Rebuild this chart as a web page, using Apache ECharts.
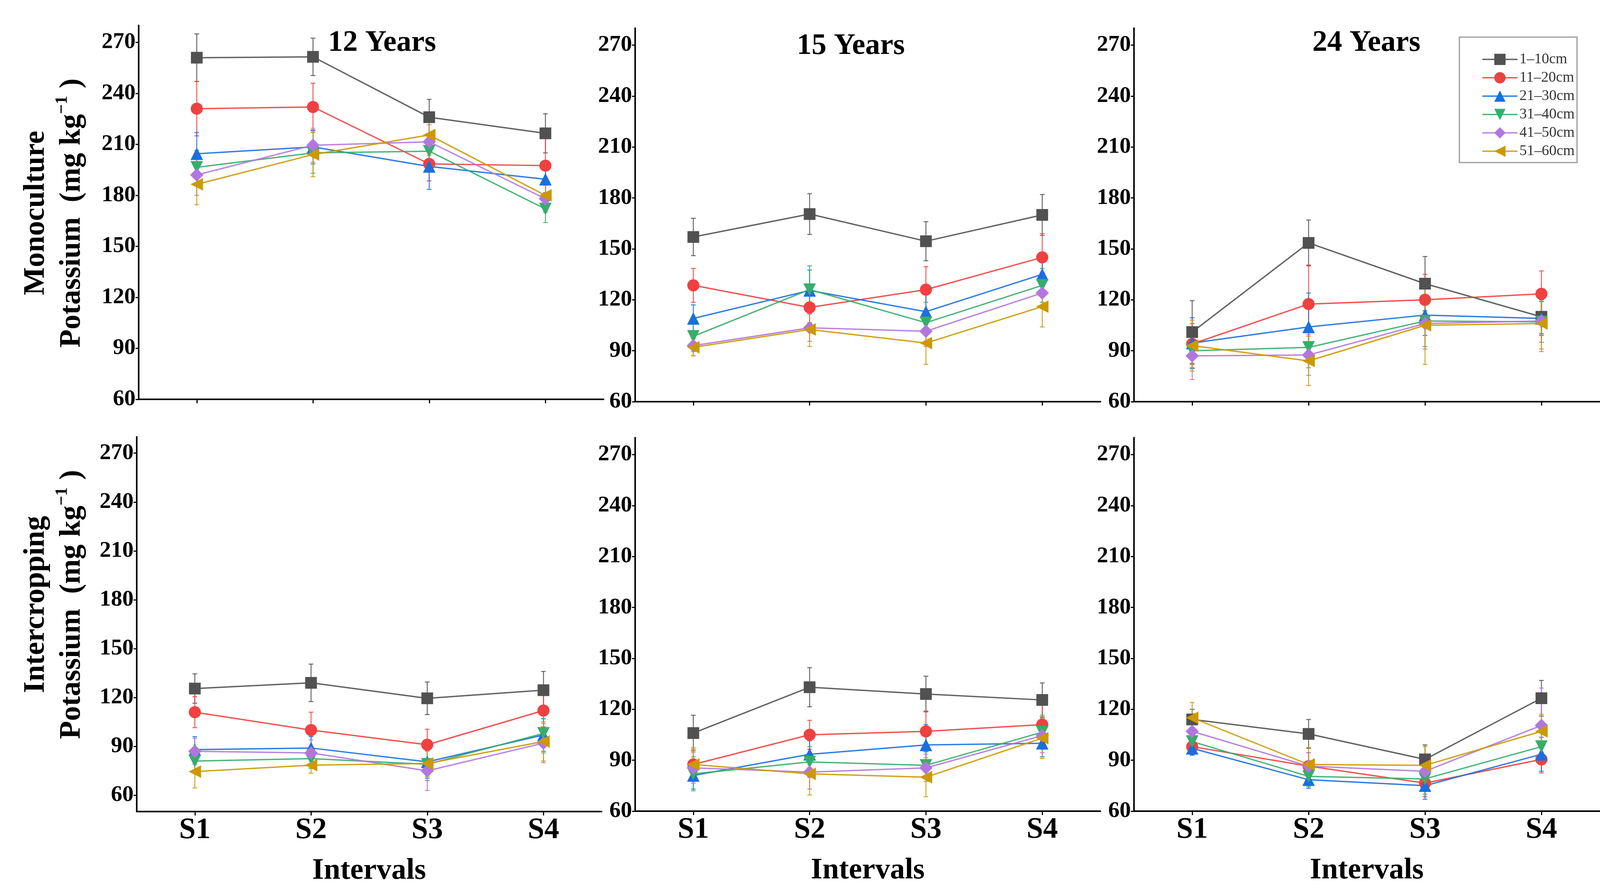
<!DOCTYPE html>
<html><head><meta charset="utf-8">
<script src="https://cdn.jsdelivr.net/npm/echarts@6/dist/echarts.min.js"></script>
<style>html,body{margin:0;padding:0;background:#fff}#c{width:4124px;height:2288px}</style>
</head><body><div id="c"></div>
<script>
const categories = ['S1', 'S2', 'S3', 'S4'];
const depths = ['1–10cm', '11–20cm', '21–30cm', '31–40cm', '41–50cm', '51–60cm'];
const yTickValues = [60, 90, 120, 150, 180, 210, 240, 270];
const panelTitles = ['12 Years', '15 Years', '24 Years'];

// Monoculture, 12 years (rows = depths, cols = S1..S4)
const mono12Mean = [[261, 261.5, 226, 216.5], [231, 232, 198.5, 197.5], [204.5, 208.5, 197, 189.5], [196.5, 205, 206, 172], [192, 209.5, 211.5, 178], [186.5, 204, 215.5, 180]];
const mono12Err = [[14, 11, 10.5, 11.5], [16, 14, 10, 16], [12.5, 10, 13.5, 8], [10, 12, 9, 8], [12, 10, 10, 8], [12, 13, 12, 9]];
// Monoculture, 15 years
const mono15Mean = [[157, 170.5, 154.5, 170], [128.5, 115.5, 126, 145], [109, 125.5, 113, 135], [98.5, 126, 106.5, 128.5], [93, 103.5, 101.5, 124], [92, 102.5, 94.5, 116]];
const mono15Err = [[11, 12, 11.5, 12], [10, 9, 13.5, 14], [8, 12, 10, 11], [9, 14, 12, 10], [6, 8, 9, 9], [5, 10, 12.5, 12]];
// Monoculture, 24 years
const mono24Mean = [[101, 153.5, 129.5, 110], [94, 117.5, 120, 123.5], [94.5, 104, 111, 109], [90, 92, 107.5, 107], [87, 87.5, 106, 107.5], [93, 84, 105, 106]];
const mono24Err = [[18.5, 13.5, 16, 10], [12, 23, 15, 13.5], [15, 20, 12, 10], [10, 12, 15, 12], [14, 12, 15, 18], [15, 14.5, 23, 15]];
// Intercropping, 12 years
const inter12Mean = [[125.5, 129, 119.5, 124.5], [111, 100, 91, 112], [88, 89, 80.5, 97], [81, 82.5, 79, 98], [87, 86, 75, 92], [74.5, 78.5, 79.5, 93]];
const inter12Err = [[9, 11.5, 10, 11.5], [9.5, 11, 9.5, 10], [8, 7, 10, 10], [7, 6, 10, 12], [8, 8, 12, 12], [10, 5, 8, 12]];
// Intercropping, 15 years
const inter15Mean = [[106, 133, 129, 125.5], [87.5, 105, 107, 111], [81, 93.5, 99, 100], [82, 89, 87, 106.5], [85.5, 83, 85.5, 104.5], [87.5, 82, 80, 103]];
const inter15Err = [[10.5, 11.5, 10.5, 10], [9, 8.5, 12, 12], [8, 8, 12, 8], [10, 9, 8, 10], [9, 10, 8, 10], [10, 12.5, 11.5, 12]];
// Intercropping, 24 years
const inter24Mean = [[114, 105.5, 90.5, 126.5], [98, 86.5, 76.5, 90.5], [97, 78.5, 75, 93.5], [101, 80.5, 79, 98], [107, 86.5, 83.5, 110.5], [115, 87.5, 87, 107]];
const inter24Err = [[6, 8.5, 8.5, 10.5], [5, 8, 8, 8], [4, 5, 8, 10], [5, 6, 9, 10], [6, 8, 10, 22], [9, 10, 11, 10]];

const panelMeans = [mono12Mean, mono15Mean, mono24Mean, inter12Mean, inter15Mean, inter24Mean];
const panelErrs = [mono12Err, mono15Err, mono24Err, inter12Err, inter15Err, inter24Err];
const panelYMin = [60, 60, 60, 50, 60, 60];

const colors = ['#515151', '#F14040', '#1A6FDF', '#37AD6B', '#B177DE', '#CC9900'];
const symbols = ['rect', 'circle', 'triangle', 'triangle', 'diamond', 'triangle'];
const symbolRotates = [0, 0, 0, 180, 0, 90];
const symbolSizes = [30, 31, 32, 32, 34, 32];

const FONT = 'Liberation Serif';
const gridsLayout = [
  {left: 355, top: 65, width: 1190, height: 957},
  {left: 1626, top: 72, width: 1191, height: 956},
  {left: 2903, top: 72, width: 1192, height: 956},
  {left: 350, top: 1118, width: 1190, height: 959},
  {left: 1626, top: 1120, width: 1191, height: 956},
  {left: 2903, top: 1120, width: 1192, height: 956}
];

const grid = [], xAxis = [], yAxis = [], series = [];
gridsLayout.forEach((g, i) => {
  grid.push(Object.assign({containLabel: false}, g));
  const bottomRow = i >= 3;
  xAxis.push({
    type: 'category', gridIndex: i, data: categories, boundaryGap: true,
    axisLine: {show: true, onZero: false, lineStyle: {color: '#000', width: 4}},
    axisTick: {show: true, alignWithLabel: true, length: 10, lineStyle: {color: '#000', width: 3}},
    axisLabel: {show: bottomRow, fontFamily: FONT, fontWeight: 'bold', fontSize: 76, color: '#000', margin: 10},
    name: bottomRow ? 'Intervals' : '', nameLocation: 'middle', nameGap: 114,
    nameTextStyle: {fontFamily: FONT, fontWeight: 'bold', fontSize: 76, color: '#000'},
    splitLine: {show: false}
  });
  yAxis.push({
    type: 'value', gridIndex: i, min: panelYMin[i], max: 280,
    axisLine: {show: true, lineStyle: {color: '#000', width: 4}},
    axisTick: {show: true, length: 8, customValues: yTickValues, lineStyle: {color: '#000', width: 3}},
    axisLabel: {fontFamily: FONT, fontWeight: 'bold', fontSize: 58, color: '#000', margin: 8, customValues: yTickValues},
    splitLine: {show: false}
  });
  const means = panelMeans[i], errs = panelErrs[i];
  depths.forEach((d, k) => {
    const col = colors[k];
    series.push({
      type: 'custom', name: d + ' error', xAxisIndex: i, yAxisIndex: i, z: 1,
      data: means[k].map((m, j) => [j, m, errs[k][j]]),
      encode: {x: 0, y: 1},
      renderItem: (params, api) => {
        const x = api.value(0), m = api.value(1), e = api.value(2);
        const top = api.coord([x, m + e]);
        const bot = api.coord([x, m - e]);
        const hw = 6;
        const style = {stroke: col, lineWidth: 2.5, opacity: 0.85};
        return {type: 'group', children: [
          {type: 'line', shape: {x1: top[0], y1: top[1], x2: bot[0], y2: bot[1]}, style},
          {type: 'line', shape: {x1: top[0] - hw, y1: top[1], x2: top[0] + hw, y2: top[1]}, style},
          {type: 'line', shape: {x1: bot[0] - hw, y1: bot[1], x2: bot[0] + hw, y2: bot[1]}, style}
        ]};
      },
      silent: true
    });
    series.push({
      type: 'line', name: d, xAxisIndex: i, yAxisIndex: i, z: 3,
      data: means[k],
      symbol: symbols[k], symbolSize: symbolSizes[k], symbolRotate: symbolRotates[k],
      showAllSymbol: true,
      lineStyle: {color: col, width: 3.5, opacity: 0.9},
      itemStyle: {color: col, opacity: 1},
      emphasis: {disabled: true}
    });
  });
});

const titleCenters = [[978, 110], [2178, 118], [3498, 110]];
const graphic = [];
panelTitles.forEach((t, i) => {
  graphic.push({type: 'text', x: titleCenters[i][0], y: titleCenters[i][1], z: 10,
    style: {text: t, fontFamily: FONT, fontWeight: 'bold', fontSize: 76, fill: '#000', align: 'center', verticalAlign: 'middle'}});
});
const yNameRich = {
  b: {fontFamily: FONT, fontWeight: 'bold', fontSize: 76, fill: '#000', lineHeight: 92},
  s: {fontFamily: FONT, fontWeight: 'bold', fontSize: 44, fill: '#000', lineHeight: 92, verticalAlign: 'top'}
};
[['Monoculture', 545], ['Intercropping', 1547]].forEach(([w, cy]) => {
  graphic.push({type: 'text', x: 138, y: cy, rotation: Math.PI / 2, z: 10,
    style: {text: '{b|' + w + '}\n{b|Potassium  (mg kg}{s|−1}{b| )}', rich: yNameRich, align: 'center', verticalAlign: 'middle'}});
});

const chart = echarts.init(document.getElementById('c'), null, {renderer: 'canvas'});
chart.setOption({
  backgroundColor: '#fff',
  animation: false,
  grid, xAxis, yAxis, series, graphic,
  legend: {
    data: depths, orient: 'vertical', left: 3736, top: 95,
    padding: [38, 6, 10, 57], itemWidth: 90, itemHeight: 36, itemGap: 9,
    borderColor: '#999', borderWidth: 3, backgroundColor: '#fff',
    lineStyle: {width: 3.5},
    textStyle: {fontFamily: FONT, fontSize: 38, color: '#333', lineHeight: 36}
  }
});
</script></body></html>
